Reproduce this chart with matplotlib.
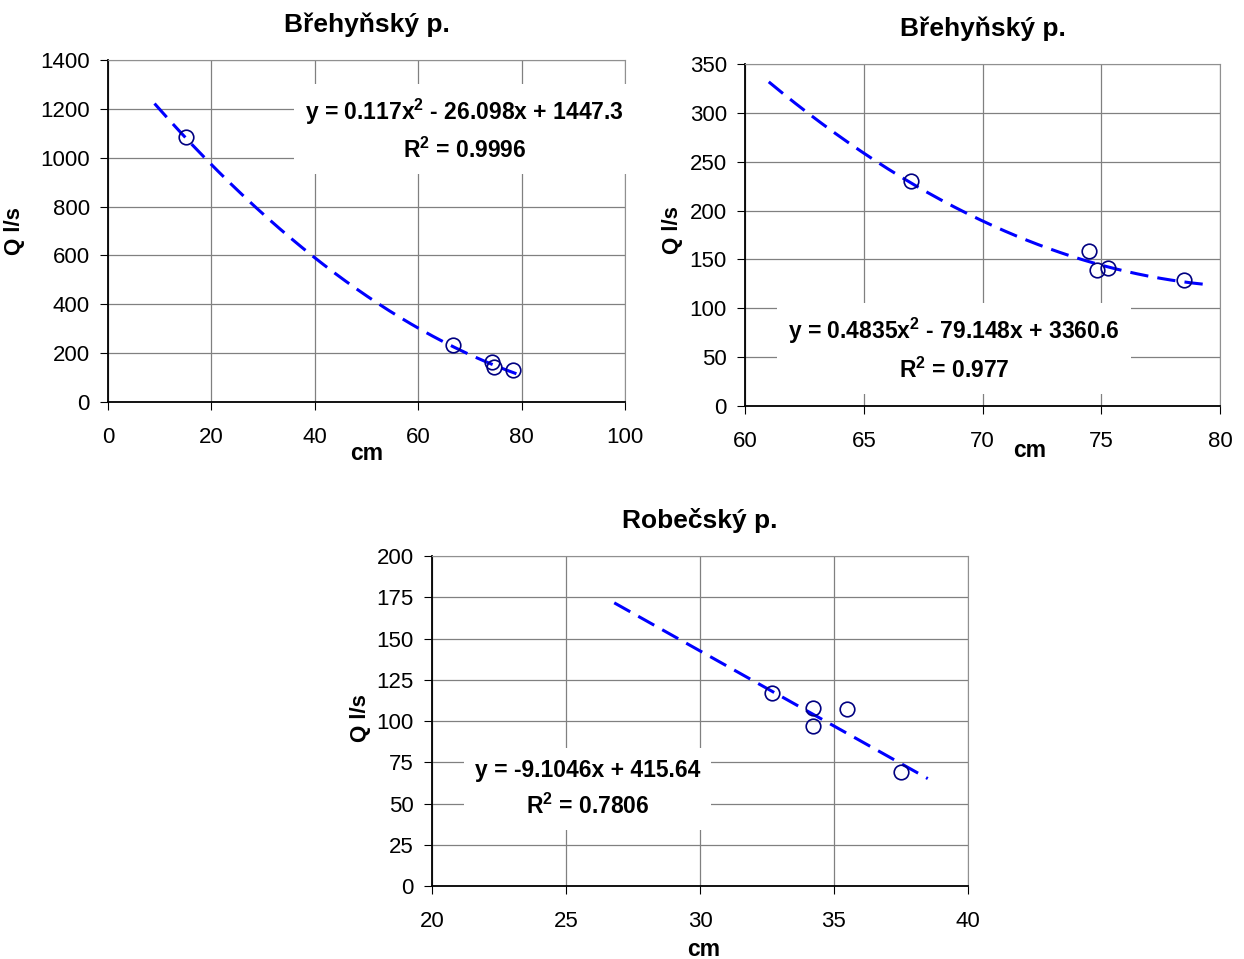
import numpy as np
import matplotlib
matplotlib.use('Agg')
import matplotlib.pyplot as plt

plt.rcParams['font.family'] = ['Liberation Sans', 'DejaVu Sans']
plt.rcParams['mathtext.default'] = 'regular'

# data
b1_cm = [15.0, 66.7, 74.2, 74.6, 78.4]
b1_q = [1085, 235, 165, 145, 133]
b1_coef = [0.117, -26.098, 1447.3]
b1_range = [9.0, 79.0]

b2_cm = [67.0, 74.5, 74.8, 75.3, 78.5]
b2_q = [230, 159, 139, 141, 129]
b2_coef = [0.4835, -79.148, 3360.6]
b2_range = [61.0, 79.5]

r_cm = [32.7, 34.2, 34.2, 35.5, 37.5]
r_q = [117, 108, 97, 107, 69]
r_coef = [-9.1046, 415.64]
r_range = [26.8, 38.5]

fig = plt.figure(figsize=(12.44, 9.59), dpi=100)

def panel(rect, cm, q, coef, xr, xlim, xticks, ylim, yticks, title, eq, r2, eqpos, cmpos, qpos):
    ax = fig.add_axes(rect)
    xs = np.linspace(xr[0], xr[1], 200)
    ax.plot(xs, np.polyval(coef, xs), color='#0000ff', lw=2.2, ls=(0, (6, 3)), zorder=3)
    ax.plot(cm, q, 'o', mfc='none', mec='#000080', ms=10.5, mew=1.2, zorder=4)
    ax.set_xlim(xlim)
    ax.set_ylim(ylim)
    ax.set_xticks(xticks)
    ax.set_yticks(yticks)
    ax.grid(True, color='#808080', lw=0.9)
    ax.set_axisbelow(True)
    for s in ['top', 'right']:
        ax.spines[s].set_color('#909090')
    ax.spines['left'].set_linewidth(1.3)
    ax.spines['bottom'].set_linewidth(1.3)
    ax.tick_params(direction='out', labelsize=16, length=6, color='black')
    ax.tick_params(axis='x', pad=12)
    ax.tick_params(axis='y', pad=7)
    ax.set_title(title, fontsize=19, fontweight='bold', pad=20)
    ax.set_ylabel('Q l/s', fontsize=16, fontweight='bold')
    ax.yaxis.set_label_coords(qpos[0], qpos[1])
    ax.set_xlabel('cm', fontsize=16.5, fontweight='bold')
    ax.xaxis.set_label_coords(cmpos[0], cmpos[1])
    ax.text(eqpos[0], eqpos[1], eq + '\n' + r2, transform=ax.transAxes,
            ha='center', va='center', fontsize=16.5, fontweight='bold',
            linespacing=1.55, zorder=5,
            bbox=dict(facecolor='white', edgecolor='none', pad=8))
    return ax

ax1 = panel([0.0868, 0.5808, 0.4156, 0.3566], b1_cm, b1_q, b1_coef, b1_range,
            (0, 100), np.arange(0, 101, 20), (0, 1400), np.arange(0, 1401, 200),
            'Břehyňský p.', 'y = 0.117x$^2$ - 26.098x + 1447.3', 'R$^2$ = 0.9996',
            (0.69, 0.795), (0.501, -0.118), (-0.16, 0.5))

ax2 = panel([0.5989, 0.5766, 0.3818, 0.3567], b2_cm, b2_q, b2_coef, b2_range,
            (60, 80), np.arange(60, 81, 5), (0, 350), np.arange(0, 351, 50),
            'Břehyňský p.', 'y = 0.4835x$^2$ - 79.148x + 3360.6', 'R$^2$ = 0.977',
            (0.44, 0.166), (0.6, -0.095), (-0.13, 0.515))

ax3 = panel([0.3473, 0.0761, 0.4308, 0.3441], r_cm, r_q, r_coef, r_range,
            (20, 40), np.arange(20, 41, 5), (0, 200), np.arange(0, 201, 25),
            'Robečský p.', 'y = -9.1046x + 415.64', 'R$^2$ = 0.7806',
            (0.29, 0.294), (0.506, -0.158), (-0.113, 0.51))

fig.savefig('out.png', dpi=100)
